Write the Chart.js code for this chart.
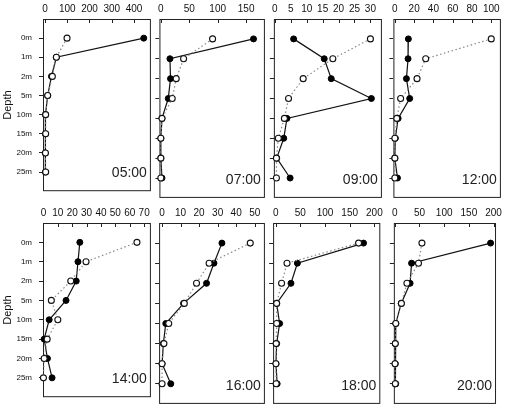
<!DOCTYPE html>
<html>
<head>
<meta charset="utf-8">
<script src="https://cdn.jsdelivr.net/npm/chart.js@4"></script>
<style>
html, body { margin: 0; padding: 0; background: #fff; }
#wrap { position: relative; width: 509px; height: 415px; overflow: hidden; background: #fff; }
#wrap canvas { position: absolute; }
</style>
</head>
<body>
<div id="wrap"></div>
<script>
// depth categories (top to bottom)
const depths = ["0m", "1m", "2m", "5m", "10m", "15m", "20m", "25m"];
const times = ["05:00", "07:00", "09:00", "12:00", "14:00", "16:00", "18:00", "20:00"];

// filled circles, solid line
const solid0500 = [444, 51, 29, 12, 2, 2, 1, 2];
const solid0700 = [163, 16, 17, 13, 2, 0, 0, 2];
const solid0900 = [5.9, 15.5, 17.7, 30.3, 3.8, 2.8, 0.6, 4.8];
const solid1200 = [14, 13.7, 12, 15.4, 3.4, 0.5, 0, 2.7];
const solid1400 = [25.3, 24, 22.8, 15.7, 4, 0.5, 2.8, 6];
const solid1600 = [32.3, 28, 24, 11.6, 2, 0.7, 0, 4.7];
const solid1800 = [178, 44, 31, 2, 8, 2, 0.6, 3];
const solid2000 = [194, 34, 31, 13, 2, 1, 1, 2];

// open circles, dotted line
const dotted0500 = [99, 51, 33, 12, 3, 3, 2, 3];
const dotted0700 = [91, 40, 27, 20, 2, 0, 0, 0];
const dotted0900 = [30, 18.2, 8.9, 4.3, 3, 1.1, 0.5, 0.5];
const dotted1200 = [100, 32, 23, 6, 2, 0, 0, 0];
const dotted1400 = [65, 29.6, 19, 5.5, 10, 2.6, 0.5, 0];
const dotted1600 = [47.6, 25.4, 18.6, 12, 3.6, 1, 0, 0];
const dotted1800 = [168, 23, 12, 2, 2, 1, 0.5, 1];
const dotted2000 = [55, 48, 24.6, 13.4, 2, 1, 0.5, 1];

// x tick labels per panel
const ticks0500 = [0, 100, 200, 300, 400];
const ticks0700 = [0, 50, 100, 150];
const ticks0900 = [0, 5, 10, 15, 20, 25, 30];
const ticks1200 = [0, 20, 40, 60, 80, 100];
const ticks1400 = [0, 10, 20, 30, 40, 50, 60, 70];
const ticks1600 = [0, 10, 20, 30, 40, 50];
const ticks1800 = [0, 50, 100, 150, 200];
const ticks2000 = [0, 50, 100, 150, 200];

const solids = [solid0500, solid0700, solid0900, solid1200, solid1400, solid1600, solid1800, solid2000];
const dotteds = [dotted0500, dotted0700, dotted0900, dotted1200, dotted1400, dotted1600, dotted1800, dotted2000];
const tickSets = [ticks0500, ticks0700, ticks0900, ticks1200, ticks1400, ticks1600, ticks1800, ticks2000];

// axis ranges and panel boxes (layout only)
const ranges = [[-9, 476], [-2.5, 183], [-0.3, 33.6], [-1.5, 110], [-0.3, 74.7], [-1.6, 55.5], [-5.2, 212], [-1.9, 205]];
const cols = [[43, 154], [159, 268], [273, 385], [393, 504]];
const rows = [[19, 201], [223, 407]];
const FONT = '"Liberation Sans", Arial, Helvetica, sans-serif';
const TOP = 19;

const framePlugin = {
    id: "frame",
    beforeDatasetsDraw(chart) {
        const { ctx, chartArea: a } = chart;
        ctx.save();
        ctx.strokeStyle = "#222";
        ctx.lineWidth = 1;
        ctx.strokeRect(a.left + 0.5, a.top + 0.5, a.right - a.left - 1, a.bottom - a.top - 1);
        // small inward ticks on the top axis
        const xs = chart.scales.x;
        ctx.beginPath();
        xs.ticks.forEach(t => {
            const px = Math.round(xs.getPixelForValue(t.value)) + 0.5;
            ctx.moveTo(px, a.top);
            ctx.lineTo(px, a.top + 4);
        });
        ctx.stroke();
        ctx.restore();
    },
    afterDraw(chart, args, opts) {
        const { ctx, chartArea: a } = chart;
        ctx.save();
        ctx.font = "14px " + FONT;
        ctx.fillStyle = "#222";
        ctx.textAlign = "right";
        ctx.textBaseline = "middle";
        ctx.fillText(opts.time, a.right - 4, a.bottom - 18);
        ctx.restore();
    }
};

const wrap = document.getElementById("wrap");

times.forEach((time, i) => {
    const col = cols[i % 4];
    const row = rows[Math.floor(i / 4)];
    const isLeft = i % 4 === 0;
    const L = isLeft ? col[0] : 5;
    const canvas = document.createElement("canvas");
    const w = L + (col[1] - col[0]) + 2;
    const h = TOP + (row[1] - row[0]) + 2;
    canvas.width = w;
    canvas.height = h;
    canvas.style.left = (col[0] - L) + "px";
    canvas.style.top = (row[0] - TOP) + "px";
    canvas.style.width = w + "px";
    canvas.style.height = h + "px";
    wrap.appendChild(canvas);

    new Chart(canvas, {
        type: "scatter",
        data: {
            datasets: [{
                // open circles drawn on top (lower order = drawn last)
                data: dotteds[i].map((v, k) => ({ x: v, y: k })),
                order: 0,
                showLine: true,
                borderColor: "#888",
                borderWidth: 1.2,
                borderDash: [1.5, 2.5],
                pointRadius: 3,
                pointBackgroundColor: "#fff",
                pointBorderColor: "#111",
                pointBorderWidth: 1.1,
                clip: false
            }, {
                data: solids[i].map((v, k) => ({ x: v, y: k })),
                order: 1,
                showLine: true,
                borderColor: "#111",
                borderWidth: 1.2,
                pointRadius: 3,
                pointBackgroundColor: "#000",
                pointBorderColor: "#000",
                pointBorderWidth: 1,
                clip: false
            }]
        },
        options: {
            responsive: false,
            animation: false,
            layout: { padding: { left: 0, top: 0, right: 2, bottom: 2 } },
            plugins: {
                legend: { display: false },
                tooltip: { enabled: false },
                frame: { time: time }
            },
            scales: {
                x: {
                    type: "linear",
                    position: "top",
                    min: ranges[i][0],
                    max: ranges[i][1],
                    afterBuildTicks: s => { s.ticks = tickSets[i].map(v => ({ value: v })); },
                    afterFit: s => { s.height = TOP; },
                    grid: { display: false, drawTicks: false },
                    border: { display: false },
                    ticks: {
                        autoSkip: false,
                        maxRotation: 0,
                        padding: 4,
                        color: "#111",
                        font: { size: 10, family: FONT }
                    }
                },
                y: {
                    type: "linear",
                    reverse: true,
                    min: -1,
                    max: 8,
                    afterBuildTicks: s => { s.ticks = depths.map((d, k) => ({ value: k })); },
                    afterFit: s => { s.width = L; },
                    grid: { drawOnChartArea: false, tickLength: 4, color: "#222" },
                    border: { display: false },
                    ticks: {
                        display: isLeft,
                        padding: 7,
                        color: "#111",
                        font: { size: 8, family: FONT },
                        callback: v => depths[v]
                    },
                    title: {
                        display: isLeft,
                        text: "Depth",
                        color: "#111",
                        font: { size: 11, family: FONT },
                        padding: { top: 1, bottom: 0 }
                    }
                }
            }
        },
        plugins: [framePlugin]
    });
});
</script>
</body>
</html>
